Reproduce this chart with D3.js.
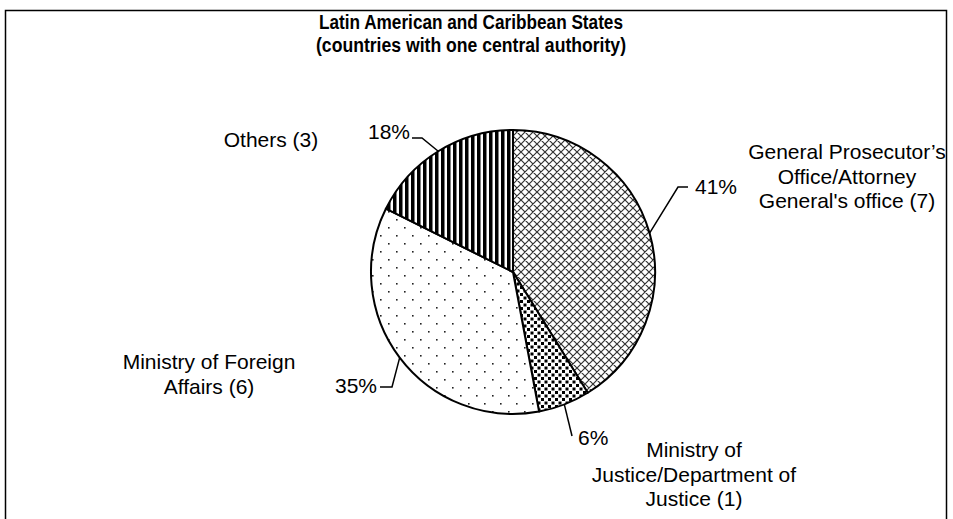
<!DOCTYPE html>
<html>
<head>
<meta charset="utf-8">
<script src="https://d3js.org/d3.v7.min.js"></script>
<style>
  body { margin: 0; background: #fff; }
  text { font-family: "Liberation Sans", Arial, sans-serif; fill: #000; }
</style>
</head>
<body>
<script>
// data
var categories = [
  ["General Prosecutor\u2019s", "Office/Attorney", "General's office (7)"],
  ["Ministry of", "Justice/Department of", "Justice (1)"],
  ["Ministry of Foreign", "Affairs (6)"],
  ["Others (3)"]
];
var values = [7, 1, 6, 3];
var titleLines = ["Latin American and Caribbean States", "(countries with one central authority)"];

var width = 953, height = 519;
var cx = 513, cy = 272, radius = 142;

// label layout: elbow of leader, end of leader, percent anchor, category anchor
var layout = [
  { elbow: [678, 187], end: [688, 187], pct: [695, 187, "start"], cat: [847, 152] },
  { elbow: [572, 436], end: [572, 436], pct: [578, 438, "start"], cat: [694, 450] },
  { elbow: [392, 387], end: [380, 387], pct: [377, 386, "end"], cat: [209, 362] },
  { elbow: [422, 138], end: [412, 138], pct: [410, 132, "end"], cat: [271, 140] }
];

var svg = d3.select("body").append("svg")
  .attr("width", width)
  .attr("height", height);

var defs = svg.append("defs");

// cross hatch
var p0 = defs.append("pattern").attr("id", "pat0")
  .attr("patternUnits", "userSpaceOnUse").attr("width", 8).attr("height", 8);
p0.append("rect").attr("width", 8).attr("height", 8).attr("fill", "#fff");
p0.append("path").attr("d", "M0,0L8,8M8,0L0,8M-1,1L1,-1M7,9L9,7")
  .attr("stroke", "#333").attr("stroke-width", 1.2);

// dense dots
var p1 = defs.append("pattern").attr("id", "pat1")
  .attr("patternUnits", "userSpaceOnUse").attr("width", 7).attr("height", 7);
p1.append("rect").attr("width", 7).attr("height", 7).attr("fill", "#fff");
p1.append("rect").attr("x", 0).attr("y", 0).attr("width", 3).attr("height", 3).attr("fill", "#000");
p1.append("rect").attr("x", 3.5).attr("y", 3.5).attr("width", 3).attr("height", 3).attr("fill", "#000");

// sparse dots
var p2 = defs.append("pattern").attr("id", "pat2")
  .attr("patternUnits", "userSpaceOnUse").attr("width", 16).attr("height", 16);
p2.append("rect").attr("width", 16).attr("height", 16).attr("fill", "#fff");
p2.append("rect").attr("x", 3).attr("y", 3).attr("width", 1.6).attr("height", 1.6).attr("fill", "#222");
p2.append("rect").attr("x", 11).attr("y", 11).attr("width", 1.6).attr("height", 1.6).attr("fill", "#222");

// vertical stripes
var p3 = defs.append("pattern").attr("id", "pat3")
  .attr("patternUnits", "userSpaceOnUse").attr("width", 6).attr("height", 6);
p3.append("rect").attr("width", 6).attr("height", 6).attr("fill", "#fff");
p3.append("rect").attr("x", 0).attr("width", 3.5).attr("height", 6).attr("fill", "#000");

// frame
svg.append("rect")
  .attr("x", 5.5).attr("y", 10.5)
  .attr("width", 941).attr("height", 530)
  .attr("fill", "none").attr("stroke", "#000").attr("stroke-width", 1.5);

// title
svg.selectAll(".title").data(titleLines).enter().append("text")
  .attr("class", "title")
  .attr("x", 471)
  .attr("y", function (d, i) { return 29 + i * 23; })
  .attr("text-anchor", "middle")
  .attr("font-size", 20)
  .attr("font-weight", "bold")
  .attr("textLength", function (d, i) { return i === 0 ? 304 : 310; })
  .attr("lengthAdjust", "spacingAndGlyphs")
  .text(function (d) { return d; });

var total = d3.sum(values);

var pie = d3.pie().sort(null).value(function (d) { return d; });
var arcs = pie(values);

var arc = d3.arc().innerRadius(0).outerRadius(radius);

var g = svg.append("g").attr("transform", "translate(" + cx + "," + cy + ")");

g.selectAll(".slice").data(arcs).enter().append("path")
  .attr("class", "slice")
  .attr("d", arc)
  .attr("fill", function (d, i) { return "url(#pat" + i + ")"; })
  .attr("stroke", "#000")
  .attr("stroke-width", 2)
  .attr("stroke-linejoin", "round");

// leader lines from slice edge
arcs.forEach(function (d, i) {
  var a = (d.startAngle + d.endAngle) / 2;
  var ex = cx + radius * Math.sin(a), ey = cy - radius * Math.cos(a);
  var L = layout[i];
  svg.append("path")
    .attr("d", "M" + ex + "," + ey + "L" + L.elbow[0] + "," + L.elbow[1] + "L" + L.end[0] + "," + L.end[1])
    .attr("fill", "none").attr("stroke", "#000").attr("stroke-width", 1.5);

  svg.append("text")
    .attr("x", L.pct[0]).attr("y", L.pct[1])
    .attr("dy", "0.35em")
    .attr("text-anchor", L.pct[2])
    .attr("font-size", 21)
    .text(Math.round(d.data / total * 100) + "%");

  var t = svg.append("text")
    .attr("text-anchor", "middle")
    .attr("font-size", 21);
  categories[i].forEach(function (line, j) {
    t.append("tspan")
      .attr("x", L.cat[0])
      .attr("y", L.cat[1] + j * 24.5)
      .attr("dy", "0.35em")
      .text(line);
  });
});
</script>
</body>
</html>
